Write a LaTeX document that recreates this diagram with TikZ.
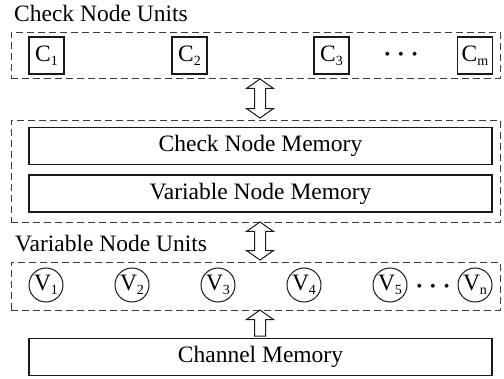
\documentclass[tikz,border=0pt]{standalone}
\usepackage{fontspec}
\setmainfont{Liberation Serif}
\usetikzlibrary{shapes.arrows,positioning}
\definecolor{dashgray}{HTML}{3A3A3A}
\definecolor{inkblack}{HTML}{1A1A1A}
% lowered small index after a unit letter
\newcommand{\unitidx}[1]{\raisebox{-4pt}{\fontsize{14}{14}\selectfont #1}}

\tikzset{
  unitgroup/.style={draw=dashgray,dash pattern=on 7pt off 4pt,line width=0.9pt,
    inner sep=0pt},
  memblock/.style={draw=inkblack,line width=1.1pt,minimum width=463pt,
    minimum height=37pt,inner sep=0pt,font=\fontsize{23.5}{26}\selectfont},
  checkunit/.style={draw=inkblack,line width=1.1pt,minimum width=35pt,
    minimum height=37pt,inner sep=0pt,font=\fontsize{23.5}{26}\selectfont},
  varunit/.style={draw=inkblack,circle,line width=1pt,minimum size=34pt,
    inner sep=0pt,font=\fontsize{23.5}{26}\selectfont},
  bigarrow/.style={draw=inkblack,fill=white,line width=1pt,rotate=90,
    inner xsep=0pt,inner ysep=5pt},
  grouptitle/.style={anchor=base west,inner sep=0pt,
    font=\fontsize{23.5}{26}\selectfont},
  etcdots/.style={inner sep=0pt,font=\fontsize{16}{16}\selectfont},
}

\begin{document}
\begin{tikzpicture}[x=1pt,y=-1pt]
% Canvas 504 x 379 px, 1 px = 1 pt, y grows downwards
\useasboundingbox (0,0) rectangle (504,379);

% ── Check node units ────────────────────────────────────────────
\node[grouptitle] (ctitle) at (14,22) {Check Node Units};
\node[unitgroup,minimum width=489pt,minimum height=46pt] (cgroup) at (255.5,55) {};
\node[checkunit] (c1) at (46.5,55.5) {C\unitidx{1}};
\node[checkunit] (c2) at (189.5,55.5) {C\unitidx{2}};
\node[checkunit] (c3) at (331.5,55.5) {C\unitidx{3}};
\node[checkunit] (cm) at (475,55.5) {C\unitidx{m}};
\node[etcdots] (cdots) at (401,55.5)
 {\textbullet\hspace{8pt}\textbullet\hspace{8pt}\textbullet};

% ── Arrow: units <-> memories ───────────────────────────────────
\node[bigarrow,double arrow,minimum height=39pt,
 double arrow head extend=8pt,double arrow tip angle=110] (arrc) at (260,98.5) {};

% ── Memories ────────────────────────────────────────────────────
\node[unitgroup,minimum width=489pt,minimum height=102pt] (mgroup) at (255.5,171) {};
\node[memblock] (cmem) at (260.5,146) {Check Node Memory};
\node[memblock] (vmem) at (260.5,193.5) {Variable Node Memory};

% ── Arrow: memories <-> variable units ──────────────────────────
\node[bigarrow,double arrow,minimum height=38pt,
 double arrow head extend=8pt,double arrow tip angle=110] (arrv) at (260,241) {};

% ── Variable node units ─────────────────────────────────────────
\node[grouptitle] (vtitle) at (15,252) {Variable Node Units};
\node[unitgroup,minimum width=489pt,minimum height=48pt] (vgroup) at (255.5,286) {};
\node[varunit] (v1) at (46,285) {V\unitidx{1}};
\node[varunit] (v2) at (132,285) {V\unitidx{2}};
\node[varunit] (v3) at (218,285) {V\unitidx{3}};
\node[varunit] (v4) at (304,285) {V\unitidx{4}};
\node[varunit] (v5) at (390,285) {V\unitidx{5}};
\node[varunit] (vn) at (475,285) {V\unitidx{n}};
\node[etcdots] (vdots) at (433,288)
 {\textbullet\hspace{8pt}\textbullet\hspace{8pt}\textbullet};

% ── Channel memory feeding the variable units ───────────────────
\node[memblock] (chmem) at (260.5,357) {Channel Memory};
\node[bigarrow,single arrow,minimum height=26pt,
 single arrow head extend=8pt,single arrow tip angle=110] (arrch) at (260,325) {};
\end{tikzpicture}
\end{document}
